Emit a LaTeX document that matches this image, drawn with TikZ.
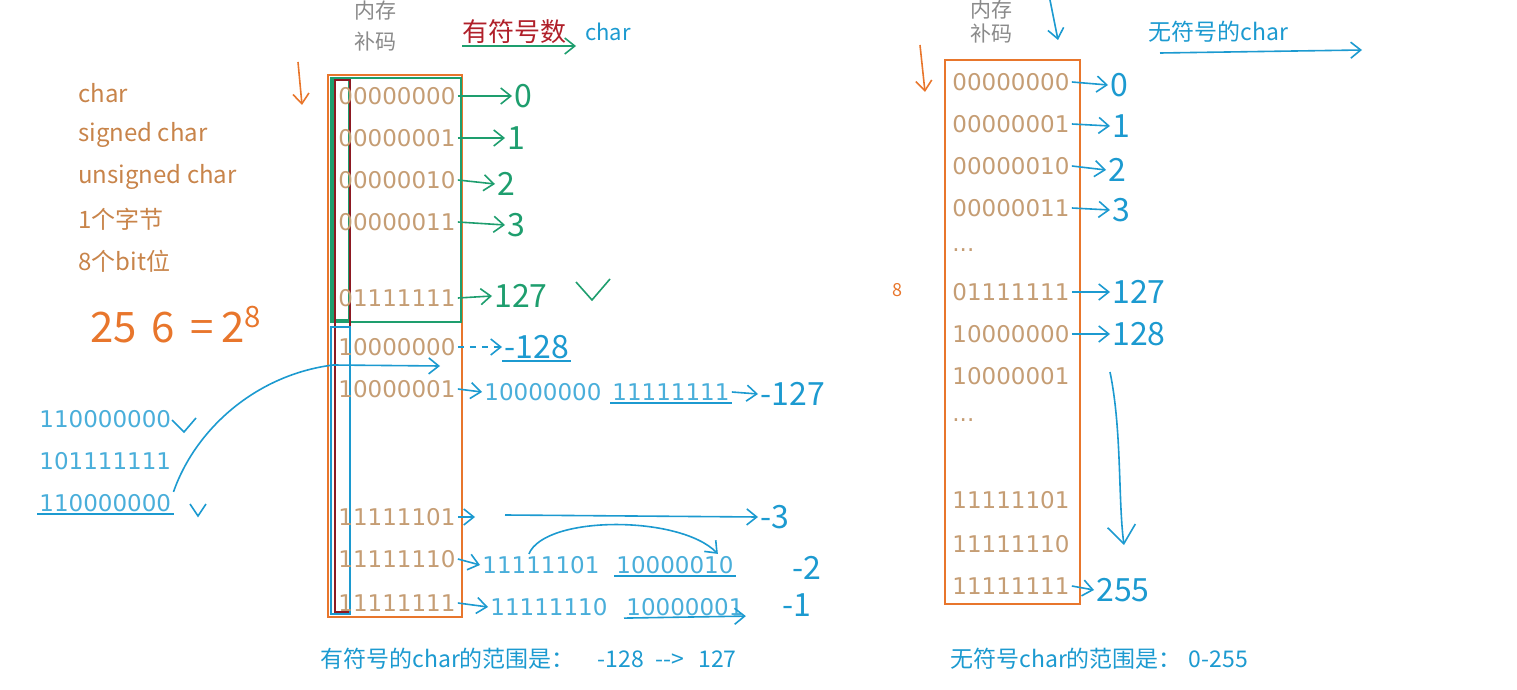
\documentclass[tikz,border=0pt]{standalone}
\usepackage{fontspec}
\setmainfont{Noto Sans CJK SC}
\newfontfamily\digfont{DejaVu Sans}
\usepackage{tikz}
\usepackage{xcolor}
\usetikzlibrary{calc,arrows.meta}
\definecolor{orn}{HTML}{E8762C}
\definecolor{bitc}{HTML}{C59D74}
\definecolor{labc}{HTML}{C8844A}
\definecolor{grn}{HTML}{1E9E6E}
\definecolor{blu}{HTML}{1C9AD0}
\definecolor{redc}{HTML}{B0202A}
\definecolor{grayc}{HTML}{8A8A8A}

\begin{document}
\begin{tikzpicture}[x=0.5pt,y=-0.5pt, >={Straight Barb[length=5pt,width=8pt]},
  bits/.style={font=\digfont\fontsize{11.5}{13}\selectfont, text=bitc, anchor=west, inner sep=1pt},
  bitsb/.style={bits, text=blu!80},
  lab/.style={font=\fontsize{12}{14}\selectfont, text=labc, anchor=west, inner sep=1pt},
  hand/.style={font=\fontsize{16}{18}\selectfont, anchor=west, inner sep=1pt}]
  \useasboundingbox (0,0) rectangle (1517,690);

  \tikzset{grnarr/.style={->, draw=grn, thick}}
  \tikzset{bluarr/.style={->, draw=blu, thick}}
  \tikzset{ornarr/.style={->, draw=orn, thick}}

  % left labels
  \node[lab] (l1) at (76,93) {char};
  \node[lab] (l2) at (76,135) {signed char};
  \node[lab] (l3) at (76,177) {unsigned char};
  \node[lab] (l4) at (76,219) {1个字节};
  \node[lab] (l5) at (76,261) {8个bit位};
  \node[hand, text=orn, font=\fontsize{21}{23}\selectfont] (pw) at (88,325) {25\,\,6\, =\,2\textsuperscript{8}};

  % headings
  \node[lab, text=grayc, font=\fontsize{10.5}{12}\selectfont] (mem1) at (352,11) {内存};
  \node[lab, text=grayc, font=\fontsize{10.5}{12}\selectfont] (buma1) at (352,42) {补码};
  \node[lab, text=redc, font=\fontsize{13}{15}\selectfont] (sgn) at (460,32) {有符号数};
  \node[lab, text=blu, font=\fontsize{11}{13}\selectfont] (ch1) at (583,32) {char};
  \coordinate (sgnl) at (462,46);
  \coordinate (sgnr) at (576,46);
  \draw[grnarr] (sgnl) -- (sgnr);
  \coordinate (oa1) at (298,62);
  \coordinate (oa2) at (302,105);
  \draw[ornarr] (oa1) -- (oa2);

  % left memory box
  \draw[orn, thick] (328,75) rectangle (462,617);
  \draw[grn, thick] (331,78) rectangle (461,322);
  \draw[grn, thick] (333,80) rectangle (349,320);
  \draw[redc!80!black, thick] (335,80) rectangle (350,612);
  \draw[blu, thick] (331,327) rectangle (350,614);

  \node[bits] (b0) at (336,96) {00000000};
  \node[bits] (b1) at (336,138) {00000001};
  \node[bits] (b2) at (336,180) {00000010};
  \node[bits] (b3) at (336,222) {00000011};
  \node[bits] (b127) at (336,298) {01111111};
  \node[bits] (b128) at (336,347) {10000000};
  \node[bits] (b129) at (336,389) {10000001};
  \node[bits] (b253) at (336,517) {11111101};
  \node[bits] (b254) at (336,559) {11111110};
  \node[bits] (b255) at (336,603) {11111111};

  % signed values
  \node[hand, text=grn] (v0) at (512,96) {0};
  \node[hand, text=grn] (v1) at (505,138) {1};
  \node[hand, text=grn] (v2) at (495,184) {2};
  \node[hand, text=grn] (v3) at (505,225) {3};
  \node[hand, text=grn] (v127) at (492,296) {127};
  \draw[grn, thick] (576,282) -- (592,300) -- (610,279);

  \draw[grnarr] (b0.east) -- (v0.west);
  \draw[grnarr] (b1.east) -- (v1.west);
  \draw[grnarr] (b2.east) -- (v2.west);
  \draw[grnarr] (b3.east) -- (v3.west);
  \draw[grnarr] (b127.east) -- (v127.west);

  \node[hand, text=blu] (vm128) at (502,347) {-128};
  \draw[blu, thick] (vm128.south west) -- (vm128.south east);
  \draw[bluarr, dashed] (b128.east) -- (vm128.west);

  \node[bitsb] (x129) at (482,392) {10000000};
  \node[bitsb] (y129) at (610,392) {11111111};
  \node[hand, text=blu] (vm127) at (758,394) {-127};
  \draw[blu, thick] (y129.south west) -- (y129.south east);
  \draw[bluarr] (b129.east) -- (x129.west);
  \draw[bluarr] (y129.east) -- (vm127.west);

  \coordinate (s253) at (475,517);
  \draw[bluarr] (b253.east) -- (s253);
  \node[hand, text=blu] (vm3) at (758,517) {-3};
  \coordinate (l253) at (505,515);
  \draw[bluarr] (l253) -- (vm3.west);

  \node[bitsb] (x254) at (480,565) {11111101};
  \node[bitsb] (y254) at (614,565) {10000010};
  \node[hand, text=blu] (vm2) at (790,568) {-2};
  \draw[blu, thick] (y254.south west) -- (y254.south east);
  \draw[bluarr] (b254.east) -- (x254.west);
  \draw[bluarr] ($(x254.north)+(-12,0)$) .. controls (545,515) and (680,515) .. ($(y254.north east)+(-18,0)$);

  \node[bitsb] (x255) at (488,607) {11111110};
  \node[bitsb] (y255) at (624,607) {10000001};
  \node[hand, text=blu] (vm1) at (780,605) {-1};
  \draw[bluarr] (b255.east) -- (x255.west);
  \draw[bluarr] (y255.south west) -- ($(y255.south east)+(0,-2)$);

  % left sample numbers
  \node[bitsb] (n1) at (37,419) {110000000};
  \node[bitsb] (n2) at (37,461) {101111111};
  \node[bitsb] (n3) at (37,503) {110000000};
  \draw[blu, thick] (n3.south west) -- (n3.south east);
  \draw[blu, thick] (172,420) -- (184,432) -- (196,418);
  \draw[blu, thick] (190,504) -- (198,516) -- (206,504);
  \coordinate (in1) at (333,365);
  \coordinate (in2) at (440,366);
  \draw[bluarr] (n3.north east) .. controls (195,430) and (255,375) .. (in1) -- (in2);

  \node[lab, text=blu, font=\fontsize{11.5}{13}\selectfont] (rs1) at (318,659) {有符号的char的范围是：\hspace{1em}-128\hspace{0.5em}{-}{-}>\hspace{0.6em}127};

  % right memory box
  \node[lab, text=grayc, font=\fontsize{10.5}{12}\selectfont] (mem2) at (968,10) {内存};
  \node[lab, text=grayc, font=\fontsize{10.5}{12}\selectfont] (buma2) at (968,34) {补码};
  \coordinate (ba1) at (1050,0);
  \coordinate (ba2) at (1058,40);
  \draw[bluarr] (ba1) -- (ba2);
  \node[lab, text=blu, font=\fontsize{11.5}{13}\selectfont] (usg) at (1146,32) {无符号的char};
  \coordinate (ua1) at (1160,53);
  \coordinate (ua2) at (1362,50);
  \draw[bluarr] (ua1) -- (ua2);
  \coordinate (ob1) at (920,45);
  \coordinate (ob2) at (925,92);
  \draw[ornarr] (ob1) -- (ob2);
  \node[hand, text=orn, font=\fontsize{9}{10}\selectfont] (eight) at (890,290) {8};

  \draw[orn, thick] (945,60) rectangle (1080,604);
  \node[bits] (u0) at (950,82) {00000000};
  \node[bits] (u1) at (950,124) {00000001};
  \node[bits] (u2) at (950,166) {00000010};
  \node[bits] (u3) at (950,208) {00000011};
  \node[bits] (ud1) at (950,250) {...};
  \node[bits] (u127) at (950,292) {01111111};
  \node[bits] (u128) at (950,334) {10000000};
  \node[bits] (u129) at (950,376) {10000001};
  \node[bits] (ud2) at (950,420) {...};
  \node[bits] (u253) at (950,500) {11111101};
  \node[bits] (u254) at (950,544) {11111110};
  \node[bits] (u255) at (950,586) {11111111};

  \node[hand, text=blu] (w0) at (1108,85) {0};
  \node[hand, text=blu] (w1) at (1110,126) {1};
  \node[hand, text=blu] (w2) at (1106,170) {2};
  \node[hand, text=blu] (w3) at (1110,210) {3};
  \node[hand, text=blu] (w127) at (1110,292) {127};
  \node[hand, text=blu] (w128) at (1110,334) {128};
  \node[hand, text=blu] (w255) at (1094,590) {255};
  \draw[bluarr] (u0.east) -- (w0.west);
  \draw[bluarr] (u1.east) -- (w1.west);
  \draw[bluarr] (u2.east) -- (w2.west);
  \draw[bluarr] (u3.east) -- (w3.west);
  \draw[bluarr] (u127.east) -- (w127.west);
  \draw[bluarr] (u128.east) -- (w128.west);
  \draw[bluarr] (u255.east) -- (w255.west);
  \coordinate (da1) at (1110,372);
  \coordinate (da2) at (1124,545);
  \draw[bluarr, {-Straight Barb[length=9pt,width=14pt]}] (da1) .. controls (1122,430) and (1118,500) .. (da2);

  \node[lab, text=blu, font=\fontsize{11.5}{13}\selectfont] (rs2) at (948,659) {无符号char的范围是：\hspace{0.3em}0-255};
\end{tikzpicture}
\end{document}
